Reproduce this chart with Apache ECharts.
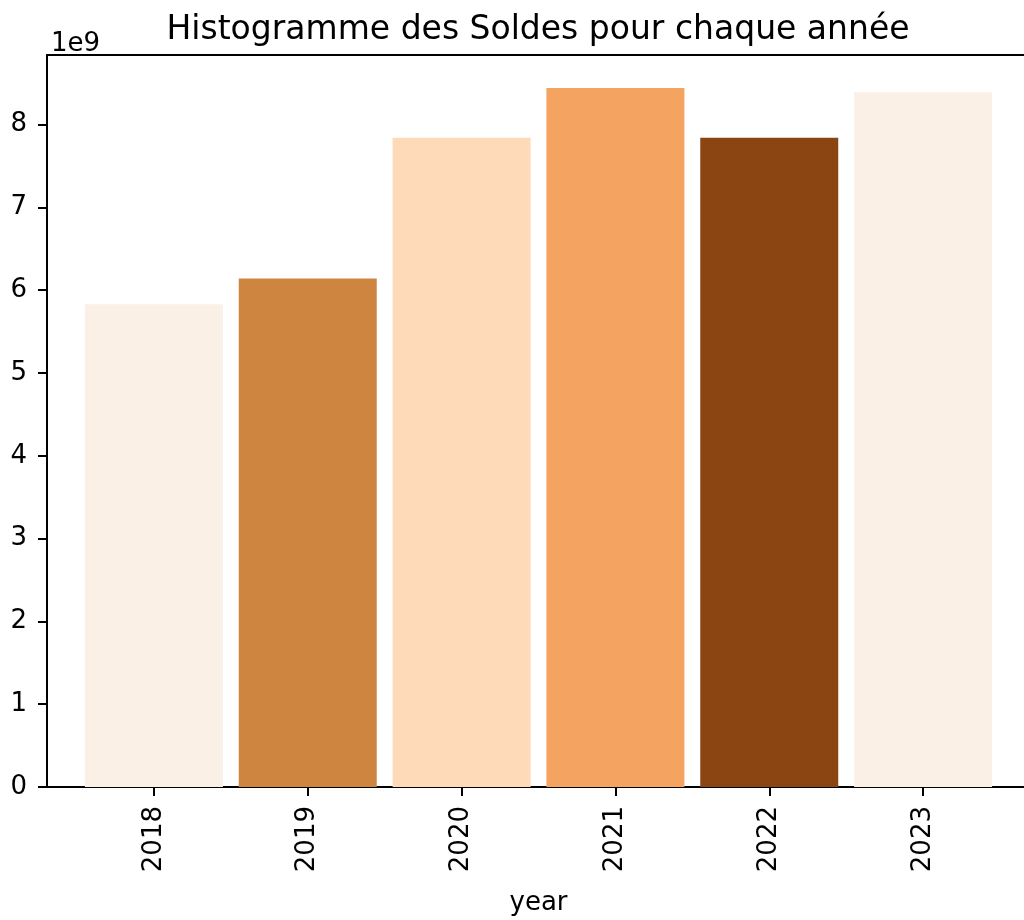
<!DOCTYPE html>
<html>
<head>
<meta charset="utf-8">
<script src="https://cdn.jsdelivr.net/npm/echarts@6/dist/echarts.min.js"></script>
<style>
    html, body { margin: 0; padding: 0; background: #fff; }
    #chart { width: 1024px; height: 920px; }
</style>
</head>
<body>
<div id="chart"></div>
<script>
var years = ['2018', '2019', '2020', '2021', '2022', '2023'];
var soldes = [5.83e9, 6.14e9, 7.84e9, 8.44e9, 7.84e9, 8.39e9];
var barColors = ['#FAF0E6', '#CD853F', '#FFDAB9', '#F4A460', '#8B4513', '#FAF0E6'];
var yTicks = [0, 1e9, 2e9, 3e9, 4e9, 5e9, 6e9, 7e9, 8e9];

var font = 'DejaVu Sans';
var positions = years.map(function(y, i) { return i; });

var barData = [];
for (var i = 0; i < years.length; i++) {
    barData.push({
        value: [i, soldes[i]],
        itemStyle: { color: barColors[i] }
    });
}

var chart = echarts.init(document.getElementById('chart'));
var option = {
    animation: false,
    backgroundColor: '#fff',
    title: [{
        text: 'Histogramme des Soldes pour chaque année',
        left: 533,
        textAlign: 'center',
        top: 6,
        textStyle: { fontFamily: font, fontSize: 33, fontWeight: 'normal', color: '#000', lineHeight: 38 }
    }, {
        text: '1e9',
        left: 46,
        top: 25,
        textStyle: { fontFamily: font, fontSize: 26, fontWeight: 'normal', color: '#000', lineHeight: 28 }
    }],
    grid: {
        left: 47,
        right: -6,
        top: 55,
        bottom: 133,
        outerBoundsMode: 'none',
        show: true,
        borderColor: '#000',
        borderWidth: 2
    },
    xAxis: {
        type: 'value',
        min: -0.695,
        max: 5.695,
        name: 'year',
        nameLocation: 'middle',
        nameGap: 103,
        nameTextStyle: { fontFamily: font, fontSize: 26, color: '#000' },
        axisLine: { show: true, onZero: false, lineStyle: { color: '#000', width: 2 } },
        axisTick: { show: true, length: 9, lineStyle: { color: '#000', width: 2 }, customValues: positions },
        axisLabel: {
            rotate: 90,
            margin: 19,
            fontFamily: font,
            fontSize: 26,
            color: '#000',
            customValues: positions,
            formatter: function(v) { return years[Math.round(v)]; }
        },
        splitLine: { show: false }
    },
    yAxis: {
        type: 'value',
        min: 0,
        max: 8.84e9,
        axisLine: { show: true, onZero: false, lineStyle: { color: '#000', width: 2 } },
        axisTick: { show: true, length: 9, lineStyle: { color: '#000', width: 2 }, customValues: yTicks },
        axisLabel: {
            margin: 20,
            fontFamily: font,
            fontSize: 26,
            color: '#000',
            customValues: yTicks,
            formatter: function(v) { return String(Math.round(v / 1e9)); }
        },
        splitLine: { show: false }
    },
    series: [{
        type: 'bar',
        barWidth: 138,
        data: barData
    }]
};
chart.setOption(option);
</script>
</body>
</html>
